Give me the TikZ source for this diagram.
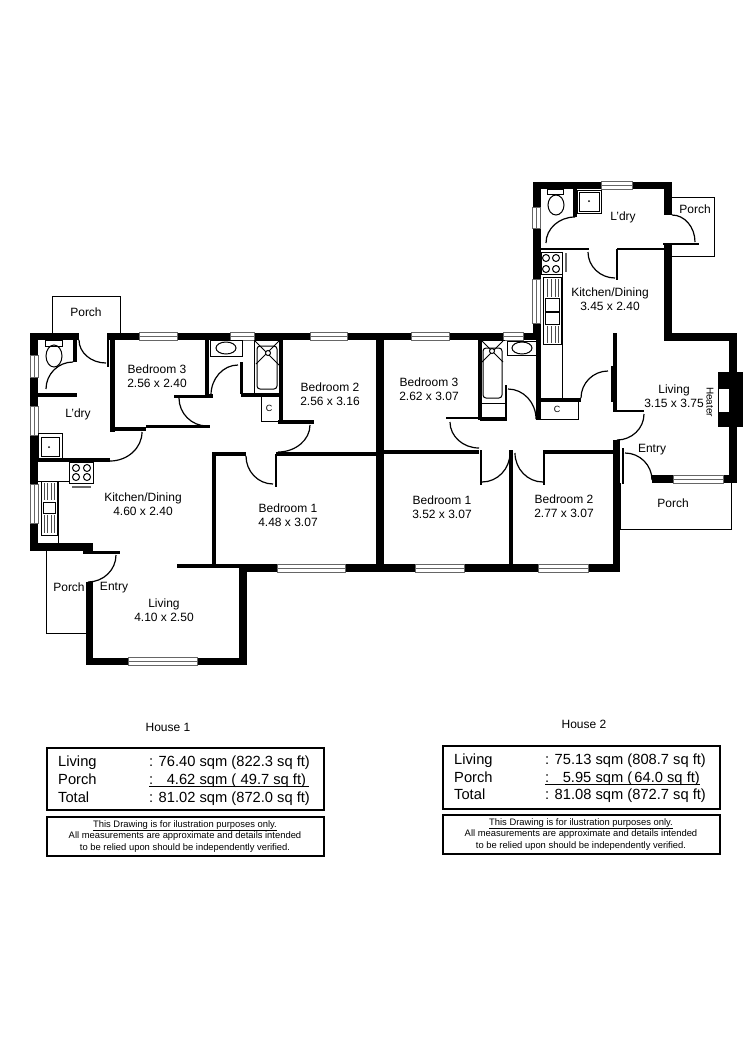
\documentclass[tikz,border=0pt]{standalone}
\usepackage{fontspec}
\setmainfont{Liberation Sans}
\usetikzlibrary{calc}
\tikzset{
  wall/.style={line width=7.5pt},
  midwall/.style={line width=4pt},
  lowwall/.style={line width=2.5pt},
  fitting/.style={line width=1pt},
  swingline/.style={line width=1.2pt},
  roomlabel/.style={font=\fontsize{12}{14}\selectfont, inner sep=0pt},
  arealabel/.style={font=\fontsize{14.7}{16}\selectfont, inner sep=0pt, anchor=base west},
  notelabel/.style={font=\fontsize{9.4}{11.7}\selectfont, inner sep=0pt}
}
\newcommand{\swing}[3]{
\draw[swingline] (#1) .. controls ($(#1)!0.55!(#2)$) and ($(#3)!0.55!(#2)$) .. (#3);
}
\newcommand{\winh}[3]{
\draw[fitting, black!60, fill=white] (#1,#3-4) rectangle (#2,#3+4);
\draw[fitting, black!60] (#1,#3) -- (#2,#3);
}
\newcommand{\winv}[3]{
\draw[fitting, black!60, fill=white] (#1-4,#2) rectangle (#1+4,#3);
\draw[fitting, black!60] (#1,#2) -- (#1,#3);
}
\newcommand{\burners}[4]{
\foreach \bx in {#1,#2} \foreach \by in {#3,#4}
  \draw[fitting] (\bx,\by) circle (3.5);
}
\newcommand{\stripes}[3]{
\foreach \sx in {#1} \draw[fitting, black!70] (\sx,#2) -- (\sx,#3);
}

\begin{document}
\begin{tikzpicture}[x=1pt,y=-1pt]
\useasboundingbox (0,0) rectangle (750,1061);
\fill[white] (0,0) rectangle (750,1061);

%porches
\draw[fitting] (52,333) -- (52,296) -- (120,296) -- (120,333);
\draw[fitting] (46,551) -- (46,633) -- (86,633);
\draw[fitting] (672,197) -- (714,197) -- (714,256) -- (672,256);
\draw[fitting] (620,483) -- (620,529) -- (731,529) -- (731,483);

%outer walls, house 1
\draw[wall] (79,336.5) -- (34,336.5) -- (34,547) -- (93,547);
\draw[wall] (89.5,582) -- (89.5,661.5) -- (243,661.5) -- (243,566);
\draw[wall] (107,336.5) -- (540,336.5);
\draw[wall] (240,568) -- (620,568);
\draw[wall] (380,333) -- (380,572);

%inner walls, house 1
\draw[wall, line width=5pt] (112.5,333) -- (112.5,432);
\draw[midwall] (110,429) -- (146,429);
\draw[lowwall] (146,426.5) -- (210,426.5);
\draw[midwall] (207,340) -- (207,397);
\draw[lowwall] (174,396.5) -- (206,396.5);
\draw[midwall] (205,396) -- (213,396);
\draw[midwall] (241,394.5) -- (283,394.5);
\draw[lowwall] (241.5,362) -- (241.5,394);
\draw[midwall] (281,340) -- (281,423);
\draw[midwall] (278,422) -- (314,422);
\draw[midwall] (214,564) -- (214,454) -- (246,454);
\draw[midwall] (276,454) -- (376,454);
\draw[midwall] (177,566) -- (240,566);
\draw[midwall] (74.5,340) -- (74.5,362);
\draw[midwall] (38,394.5) -- (77,394.5);
\draw[midwall] (38,460) -- (110,460);
\draw[lowwall] (83,552.5) -- (120,552.5);
\draw[lowwall] (108,333) -- (108,367);
\draw[swingline] (276,454) -- (276,487);

%outer walls, house 2
\draw[wall] (537,333) -- (537,185.5) -- (668,185.5) -- (668,215);
\draw[wall] (668,244) -- (668,337);
\draw[wall] (664,337) -- (733,337) -- (733,479) -- (652,479);
\draw[midwall, line width=5pt] (538,333) -- (538,420);
\draw[midwall] (615,333) -- (615,412);
\draw[midwall, line width=6pt] (614,366) -- (614,402);
\draw[wall] (616.5,440) -- (616.5,571);

%inner walls, house 2
\draw[midwall] (384,452) -- (479,452);
\draw[midwall] (480,340) -- (480,420);
\draw[lowwall] (446,418) -- (482,418);
\draw[midwall] (480,419) -- (507,419);
\draw[swingline] (481,450) -- (481,485);
\draw[midwall] (511,450) -- (511,568);
\draw[midwall] (544,452) -- (613,452);
\draw[swingline] (544,450) -- (544,485);
\draw[swingline] (623,448) -- (623,484);
\draw[lowwall] (506,385) -- (506,420);
\draw[midwall] (538,400) -- (581,400);
\draw[lowwall] (613,411) -- (644,411);
\draw[lowwall] (541,249) -- (589,249);
\draw[lowwall] (617,249) -- (664,249);
\draw[swingline] (617,249) -- (617,280);
\draw[lowwall] (663,244) -- (699,244);
\draw[midwall] (575,189) -- (575,217);

%heater
\fill (718,372) rectangle (743,427);
\draw[fitting, fill=white] (718.5,388) rectangle (729,412);

%door swings, house 1
\swing{73,362}{46,362}{46,389}
\swing{79,340}{79,363}{106,363}
\swing{142,432}{142,461}{110,461}
\swing{116,555}{116,582}{88,582}
\swing{179,398}{179,426}{207,426}
\swing{238,365}{211,365}{211,395}
\swing{246,456}{246,484}{273,484}
\swing{310,425}{310,452}{278,452}

%door swings, house 2
\swing{450,422}{450,448}{479,448}
\swing{510,453}{510,482}{482,482}
\swing{515,453}{515,482}{543,482}
\swing{508,389}{536,389}{536,419}
\swing{581,398}{581,371}{608,371}
\swing{644,414}{644,440}{617,440}
\swing{625,453}{652,453}{652,480}
\swing{588,252}{588,278}{615,278}
\swing{672,215}{695,215}{695,242}
\swing{575,217}{546,217}{546,243}

%windows
\winh{139}{177}{336.5}
\winh{230}{254}{336.5}
\winh{310}{347}{336.5}
\winh{411}{449}{336.5}
\winh{503}{523}{336.5}
\winh{128}{197}{661.5}
\winh{277}{345}{568}
\winh{415}{464}{568}
\winh{538}{588}{568}
\winh{673}{723}{479}
\winh{601}{632}{185.5}
\winv{34}{355}{377}
\winv{34}{406}{435}
\winv{34}{484}{523}
\winv{536.5}{207}{228}
\winv{536.5}{279}{323}

%fittings, house 1
\draw[fitting] (45,340) rectangle (62,346);
\draw[fitting] (54,356) ellipse (8 and 11);
\draw[fitting] (38,433) rectangle (62,458);
\draw[fitting] (41,437) rectangle (59,456);
\fill (49,447) circle (1);
\draw[fitting] (69,462) rectangle (93,483);
\burners{76}{87}{468}{477}
\draw[fitting, black!60, line width=1.5pt] (72,487) -- (91,487);
\draw[fitting] (38,481) -- (69,481);
\draw[fitting] (58,481) -- (58,543);
\draw[fitting] (41,481) rectangle (57,535);
\draw[fitting] (43,502) rectangle (55,513);
\stripes{44,47,51,54}{483}{500}
\stripes{44,47,51,54}{515}{533}
\draw[fitting] (210,340) rectangle (242,356);
\draw[fitting] (226,348) ellipse (10 and 6);
\draw[fitting] (254,340) rectangle (279,393);
\draw[fitting, rounded corners=3pt] (257,346) rectangle (277,389);
\draw[fitting] (255,341) -- (279,365) (279,341) -- (256,364);
\draw[fitting, fill=white] (268,353) circle (2.5);
\draw[fitting] (261,397) -- (261,421.5) -- (279,421.5);

%fittings, house 2
\draw[fitting] (482,340) -- (505,340) (482,403) -- (505,403);
\draw[fitting, rounded corners=3pt] (483,348) rectangle (502,398);
\draw[fitting] (482,341) -- (503,362) (503,341) -- (482,362);
\draw[fitting, fill=white] (492,351) circle (2.5);
\draw[fitting] (507,341) rectangle (536,355);
\draw[fitting] (522,348) ellipse (10 and 6);
\draw[fitting] (547,189) rectangle (563,194);
\draw[fitting] (556,205) ellipse (8 and 10);
\draw[fitting] (577,190) rectangle (601,213);
\draw[fitting] (579,192) rectangle (599,211);
\fill (589,201) circle (1);
\draw[fitting] (541,252) rectangle (562,274);
\burners{546}{556}{258}{269}
\draw[fitting, black!60, line width=1.5pt] (566,253) -- (566,272);
\draw[fitting] (562,274) -- (562,398);
\draw[fitting] (543,277) rectangle (561,344);
\draw[fitting] (545,298) rectangle (559,311);
\draw[fitting] (545,312) rectangle (559,324);
\stripes{547,551,555,558}{279}{297}
\stripes{547,551,555,558}{326}{343}
\draw[fitting] (540,402) -- (540,419) -- (578,419) -- (578,402);

%room labels, house 1
\node[roomlabel] (porchb) at (86,312) {Porch};
\node[roomlabel] (ldryb) at (78,414) {L'dry};
\node[roomlabel, align=center] (bedc) at (157,376.5) {Bedroom 3\\2.56 x 2.40};
\node[roomlabel, align=center] (kitb) at (143,504) {Kitchen/Dining\\4.60 x 2.40};
\node[roomlabel] (porchc) at (69,587) {Porch};
\node[roomlabel] (entryb) at (114,588) {Entry};
\node[roomlabel, align=center] (livb) at (164,610.5) {Living\\4.10 x 2.50};
\node[roomlabel, align=center] (bedb) at (330,394.5) {Bedroom 2\\2.56 x 3.16};
\node[roomlabel, align=center] (beda) at (288,515.5) {Bedroom 1\\4.48 x 3.07};
\node[font=\fontsize{9}{11}\selectfont, inner sep=0pt] (cupb) at (269,408) {C};

%room labels, house 2
\node[roomlabel, align=center] (bedf) at (429,389.5) {Bedroom 3\\2.62 x 3.07};
\node[roomlabel, align=center] (bedd) at (442,507.5) {Bedroom 1\\3.52 x 3.07};
\node[roomlabel, align=center] (bede) at (564,506) {Bedroom 2\\2.77 x 3.07};
\node[roomlabel, align=center] (kitc) at (610,299.5) {Kitchen/Dining\\3.45 x 2.40};
\node[roomlabel] (ldryc) at (623,217) {L'dry};
\node[roomlabel] (porchd) at (695,209) {Porch};
\node[roomlabel, align=center] (livc) at (674,396.5) {Living\\3.15 x 3.75};
\node[roomlabel] (entryc) at (652,450) {Entry};
\node[roomlabel] (porche) at (673,503) {Porch};
\node[font=\fontsize{10}{12}\selectfont, inner sep=0pt, rotate=-90] (heat) at (710,402) {Heater};
\node[font=\fontsize{9}{11}\selectfont, inner sep=0pt] (cupc) at (557,409) {C};

%area tables
\node[roomlabel] (hsa) at (168,727) {House 1};
\draw[line width=1.5pt] (47,748) rectangle (324,810);
\draw[line width=1.5pt] (47,817) rectangle (324,856);
\node[arealabel] (lva) at (58,766) {Living};
\node[arealabel] (pra) at (58,784) {Porch};
\node[arealabel] (tta) at (58,802) {Total};
\node[arealabel] (lvb) at (149,766) {: 76.40 sqm (822.3 sq ft)};
\node[arealabel] (prb) at (149,784) {:\hspace{0.55em} 4.62 sqm (\hspace{0.3em}49.7 sq ft)};
\node[arealabel] (ttb) at (149,802) {: 81.02 sqm (872.0 sq ft)};
\draw[line width=0.7pt] (149,786) -- (309,786);
\node[notelabel, align=center] (nta) at (185,836.5) {\underline{This Drawing is for ilustration purposes only.}\\All measurements are approximate and details intended\\to be relied upon should be independently verified.};

\node[roomlabel] (hsb) at (584,724) {House 2};
\draw[line width=1.5pt] (443,746) rectangle (720,809);
\draw[line width=1.5pt] (443,815) rectangle (720,854);
\node[arealabel] (lvc) at (454,764) {Living};
\node[arealabel] (prc) at (454,782) {Porch};
\node[arealabel] (ttc) at (454,799.5) {Total};
\node[arealabel] (lvd) at (545,764) {: 75.13 sqm (808.7 sq ft)};
\node[arealabel] (prd) at (545,782) {:\hspace{0.55em} 5.95 sqm (\hspace{0.15em}64.0 sq ft)};
\node[arealabel] (ttd) at (545,799.5) {: 81.08 sqm (872.7 sq ft)};
\draw[line width=0.7pt] (545,784) -- (700,784);
\node[notelabel, align=center] (ntb) at (581,834.5) {\underline{This Drawing is for ilustration purposes only.}\\All measurements are approximate and details intended\\to be relied upon should be independently verified.};
\end{tikzpicture}
\end{document}
